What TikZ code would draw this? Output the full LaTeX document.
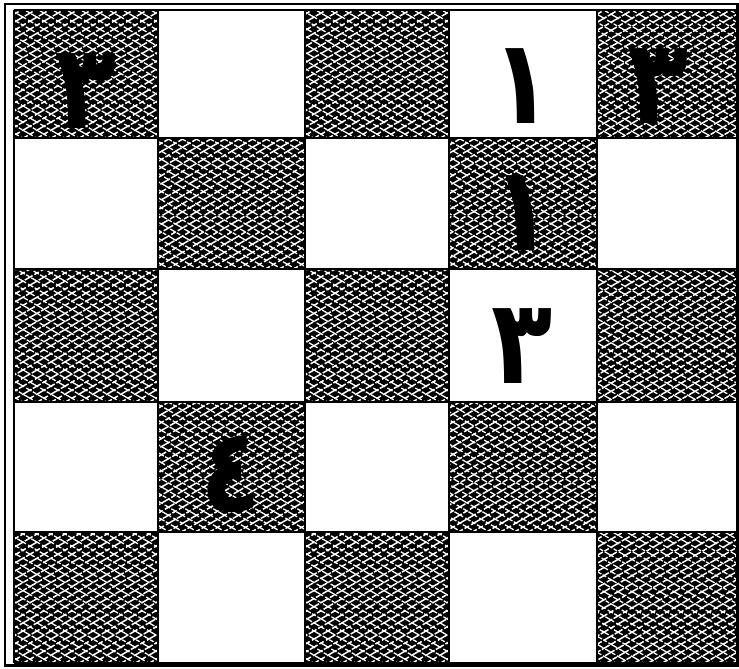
\documentclass[tikz,border=0pt]{standalone}
\usepackage{fontspec}
\newfontfamily\arabicfont[Script=Arabic]{DejaVu Sans}
\newcommand\digitfont{\arabicfont\bfseries\fontsize{118}{118}\selectfont}
\tikzset{
  hatch/.style={white, line width=1.5pt, dash pattern=on 9pt off 2pt on 5pt off 2.5pt on 11pt off 1.5pt},
  hatchb/.style={white, line width=1.3pt, dash pattern=on 6pt off 2.5pt on 10pt off 2pt on 4pt off 1.5pt},
  gridline/.style={black, line width=1.6pt},
  frameline/.style={black, line width=2.2pt},
  digit/.style={inner sep=0pt, anchor=base, font=\digitfont, xscale=0.85}
}
\begin{document}
\begin{tikzpicture}[x=1pt,y=1pt]
\useasboundingbox (0,0) rectangle (739,669);
\fill[white] (0,0) rectangle (739,669);
\def\xs{{14,158,305,449,597,737}}
\def\ys{{659,531,400,267,137,6}}
\foreach \r in {0,...,4}{
  \foreach \c in {0,...,4}{
    \pgfmathtruncatemacro\pp{mod(\r+\c,2)}
    \pgfmathsetmacro\xa{\xs[\c]}
    \pgfmathsetmacro\xb{\xs[\c+1]}
    \pgfmathsetmacro\ya{\ys[\r]}
    \pgfmathsetmacro\yb{\ys[\r+1]}
    \ifnum\pp=0
      \begin{scope}
        \clip (\xa,\yb) rectangle (\xb,\ya);
        \fill[black] (\xa,\yb) rectangle (\xb,\ya);
        \foreach \k in {-260,-246,...,200}{
          \draw[hatch] (\xa+\k,\yb-2) -- ++(260,150);
          \draw[hatchb] (\xb-\k,\yb-2) -- ++(-260,150);
        }
      \end{scope}
    \fi
  }
}
% grid
\foreach \i in {0,...,5}{
  \pgfmathsetmacro\xx{\xs[\i]}
  \pgfmathsetmacro\yy{\ys[\i]}
  \draw[gridline] (\xx,6) -- (\xx,659);
  \draw[gridline] (14,\yy) -- (737,\yy);
}
% outer frame
\draw[frameline] (5,3.5) rectangle (737.5,665);
% digits
\node[digit] (d1) at (86,540) {٣};
\node[digit] (d2) at (522,545) {١};
\node[digit] (d3) at (658,545) {٣};
\node[digit] (d4) at (522,418) {١};
\node[digit] (d5) at (522,285) {٣};
\node[digit] (d6) at (231,157) {٤};
\end{tikzpicture}
\end{document}
